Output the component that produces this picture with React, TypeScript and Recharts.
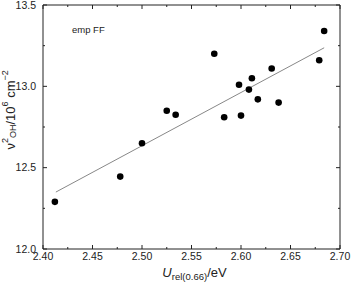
import { ScatterChart, Scatter, XAxis, YAxis } from "recharts";

const energyEv = [
  2.412, 2.478, 2.5, 2.525, 2.534, 2.573, 2.583, 2.598, 2.6, 2.608, 2.611,
  2.617, 2.631, 2.638, 2.679, 2.684,
];
const nuSquared = [
  12.29, 12.445, 12.65, 12.85, 12.825, 13.2, 12.81, 13.01, 12.82, 12.98,
  13.05, 12.92, 13.11, 12.9, 13.16, 13.34,
];
const fitEnergy = [2.413, 2.684];
const fitNu = [12.35, 13.237];

const xMajor = [2.4, 2.45, 2.5, 2.55, 2.6, 2.65, 2.7];
const xTicks = [
  2.4, 2.425, 2.45, 2.475, 2.5, 2.525, 2.55, 2.575, 2.6, 2.625, 2.65, 2.675,
  2.7,
];
const yMajor = [12.0, 12.5, 13.0, 13.5];
const yTicks = [12.0, 12.25, 12.5, 12.75, 13.0, 13.25, 13.5];

const points = energyEv.map((x, i) => ({ x, y: nuSquared[i] }));
const fitLine = fitEnergy.map((x, i) => ({ x, y: fitNu[i] }));

const INK = "#222";
const FONT = "'Liberation Sans', Arial, sans-serif";

function isMajor(list: number[], v: number) {
  return list.some((m) => Math.abs(m - v) < 1e-6);
}

function TickMark(props: any & { side: string }) {
  const { x, y, payload, side } = props;
  const v = payload.value as number;
  const major = isMajor(side === "bottom" || side === "top" ? xMajor : yMajor, v);
  const len = major ? 4 : 2;
  let line;
  if (side === "bottom") line = <line x1={x} y1={y} x2={x} y2={y - len} />;
  else if (side === "top") line = <line x1={x} y1={y} x2={x} y2={y + len} />;
  else if (side === "left") line = <line x1={x} y1={y} x2={x + len} y2={y} />;
  else line = <line x1={x} y1={y} x2={x - len} y2={y} />;

  return (
    <g stroke={INK} strokeWidth={1}>
      {line}
      {major && side === "bottom" && (
        <text x={x} y={y + 11} textAnchor="middle" fill={INK} stroke="none" fontSize={10.5} fontFamily={FONT}>
          {v.toFixed(2)}
        </text>
      )}
      {major && side === "left" && (
        <text x={x - 7} y={y + 3.8} textAnchor="end" fill={INK} stroke="none" fontSize={10.5} fontFamily={FONT}>
          {v.toFixed(1)}
        </text>
      )}
    </g>
  );
}

function XLabel({ viewBox }: any) {
  const cx = viewBox.x + viewBox.width / 2 + 3;
  return (
    <text x={cx} y={viewBox.y + 28} textAnchor="middle" fill={INK} fontSize={13} fontFamily={FONT}>
      <tspan fontStyle="italic">U</tspan>
      <tspan fontSize={9.5} dy={3}>rel(0.66)</tspan>
      <tspan dy={-3}>/eV</tspan>
    </text>
  );
}

function YLabel({ viewBox }: any) {
  const cx = viewBox.x + 10;
  const cy = viewBox.y + viewBox.height * 0.43;
  return (
    <text
      x={cx}
      y={cy}
      textAnchor="middle"
      fill={INK}
      fontSize={13}
      fontFamily={FONT}
      transform={`rotate(-90 ${cx} ${cy})`}
      dominantBaseline="central"
    >
      <tspan>ν</tspan>
      <tspan fontSize={9} dy={-5}>2</tspan>
      <tspan fontSize={9} dy={8}>OH</tspan>
      <tspan dy={-3}>/10</tspan>
      <tspan fontSize={9} dy={-5}>6</tspan>
      <tspan dy={5}> cm</tspan>
      <tspan fontSize={9} dy={-5}>−2</tspan>
    </text>
  );
}

function Note({ viewBox }: any) {
  return (
    <text x={viewBox.x + 29} y={viewBox.y + 29} fill={INK} fontSize={9.5} fontFamily={FONT}>
      emp FF
    </text>
  );
}

const noShape = () => <g />;

export default function App() {
  return (
    <div style={{ position: "absolute", left: 0, top: 0, background: "#fff" }}>
      <ScatterChart width={351} height={285} margin={{ top: 4, right: 10, bottom: 0, left: 0 }}>
        <XAxis
          xAxisId="b"
          type="number"
          dataKey="x"
          domain={[2.4, 2.7]}
          allowDataOverflow
          ticks={xTicks}
          interval={0}
          height={36}
          tickSize={0}
          tickMargin={0}
          tickLine={false}
          axisLine={{ stroke: INK }}
          tick={(p: any) => <TickMark {...p} side="bottom" />}
          label={{ content: XLabel }}
        />
        <XAxis
          xAxisId="t"
          orientation="top"
          type="number"
          dataKey="x"
          domain={[2.4, 2.7]}
          allowDataOverflow
          ticks={xTicks}
          interval={0}
          height={1}
          tickSize={0}
          tickMargin={0}
          tickLine={false}
          axisLine={{ stroke: INK }}
          tick={(p: any) => <TickMark {...p} side="top" />}
          label={{ content: Note }}
        />
        <YAxis
          yAxisId="l"
          type="number"
          dataKey="y"
          domain={[12, 13.5]}
          allowDataOverflow
          ticks={yTicks}
          interval={0}
          width={43}
          tickSize={0}
          tickMargin={0}
          tickLine={false}
          axisLine={{ stroke: INK }}
          tick={(p: any) => <TickMark {...p} side="left" />}
          label={{ content: YLabel }}
        />
        <YAxis
          yAxisId="r"
          orientation="right"
          type="number"
          dataKey="y"
          domain={[12, 13.5]}
          allowDataOverflow
          ticks={yTicks}
          interval={0}
          width={1}
          tickSize={0}
          tickMargin={0}
          tickLine={false}
          axisLine={{ stroke: INK }}
          tick={(p: any) => <TickMark {...p} side="right" />}
        />
        <Scatter
          xAxisId="t"
          yAxisId="r"
          data={points}
          shape={noShape}
          legendType="none"
          isAnimationActive={false}
        />
        <Scatter
          xAxisId="b"
          yAxisId="l"
          data={fitLine}
          line={{ stroke: "#888", strokeWidth: 1 }}
          shape={noShape}
          isAnimationActive={false}
        />
        <Scatter
          xAxisId="b"
          yAxisId="l"
          data={points}
          fill="#000"
          shape={(p: any) => <circle cx={p.cx} cy={p.cy} r={3.3} fill="#000" />}
          isAnimationActive={false}
        />
      </ScatterChart>
    </div>
  );
}
